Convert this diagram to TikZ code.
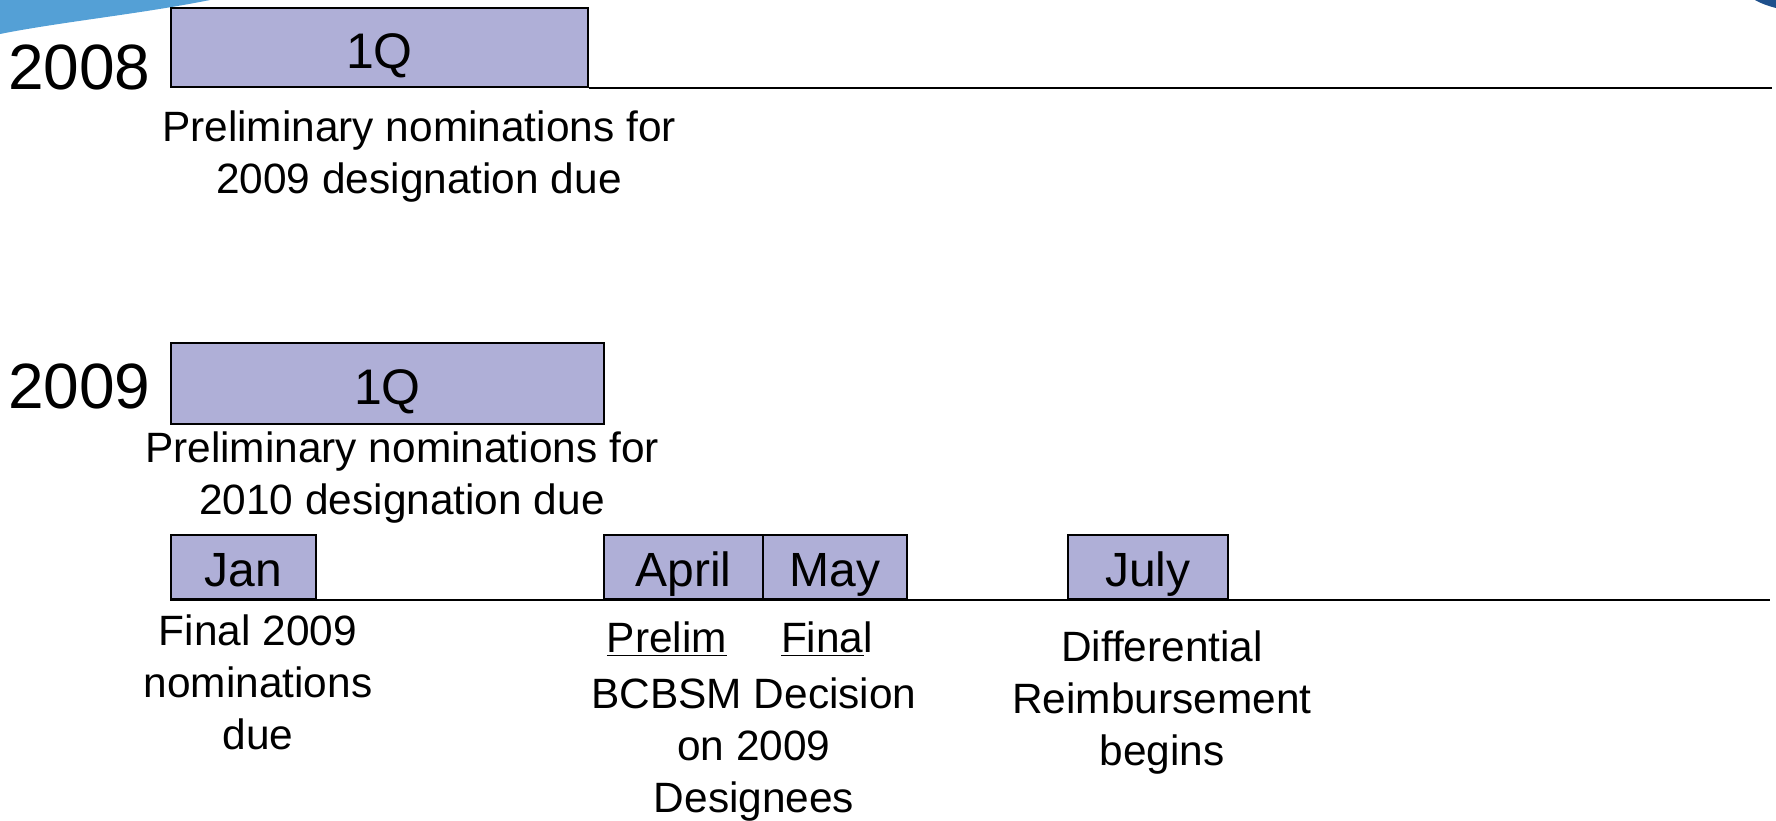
\documentclass[tikz,border=0pt]{standalone}
\usepackage{fontspec}
\setmainfont{Liberation Sans}
\definecolor{boxfill}{RGB}{175,175,215}
\definecolor{wedgeblue}{RGB}{84,160,214}
\definecolor{wedgedark}{RGB}{30,80,140}

\begin{document}
\begin{tikzpicture}[x=0.5pt,y=0.5pt,yscale=-1,xscale=1,
  period/.style={draw=black,fill=boxfill,line width=0.9pt,inner sep=0pt,anchor=south west,text depth=0pt},
  quarter/.style={period,font=\fontsize{25}{29}\selectfont,text height=21pt},
  month/.style={period,minimum height=32pt,font=\fontsize{24}{28}\selectfont,text height=19.5pt},
  yearlbl/.style={anchor=base east,inner sep=0pt,font=\fontsize{32}{36}\selectfont},
  note/.style={anchor=north,inner sep=0pt,align=center,font=\fontsize{21.2}{26}\selectfont},
  axis/.style={line width=1pt}]
\useasboundingbox (0,0) rectangle (1776,820);

%Shape: corner wedges
\fill[wedgeblue] (0,0) -- (210,0) .. controls (140,14) and (60,22) .. (0,34) -- cycle;
\fill[wedgedark] (1755,0) -- (1776,0) -- (1776,8) .. controls (1768,6) and (1760,3) .. (1755,0) -- cycle;

%Shape: 2008 row
\node[quarter,minimum width=208.5pt,minimum height=39.5pt] (q08) at (170,88) {1Q};
\coordinate (end08) at (1772,88);
\draw[axis] (q08.south east) -- (end08);

%Shape: 2009 row
\node[quarter,minimum width=216.5pt,minimum height=40.5pt] (q09) at (170,425) {1Q};

%Shape: 2009 months
\node[month,minimum width=72.5pt] (jan) at (170,600) {Jan};
\node[month,minimum width=79.5pt] (apr) at (603,600) {April};
\node[month,minimum width=72pt] (may) at (762,600) {May};
\node[month,minimum width=80pt] (jul) at (1067,600) {July};
\coordinate (end09) at (1770,600);
\draw[axis] (jan.south west) -- (end09);

% Text Node
\node[yearlbl] (y08) at (151,89) {2008};
% Text Node
\node[yearlbl] (y09) at (151,408) {2009};
% Text Node
\node[note] (n08) at (419,110) {Preliminary nominations for\\2009 designation due};
% Text Node
\node[note] (n09) at (402,431) {Preliminary nominations for\\2010 designation due};
% Text Node
\node[note] (njan) at (258,614) {Final 2009\\nominations\\due};
% Text Node
\node[note] (nprelim) at (667,621) {\underline{Prelim}};
% Text Node
\node[note] (nfinal) at (827,621) {\underline{Fina}l};
% Text Node
\node[note] (ndec) at (754,677) {BCBSM Decision\\on 2009\\Designees};
% Text Node
\node[note] (njul) at (1162,630) {Differential\\Reimbursement\\begins};

\end{tikzpicture}
\end{document}
